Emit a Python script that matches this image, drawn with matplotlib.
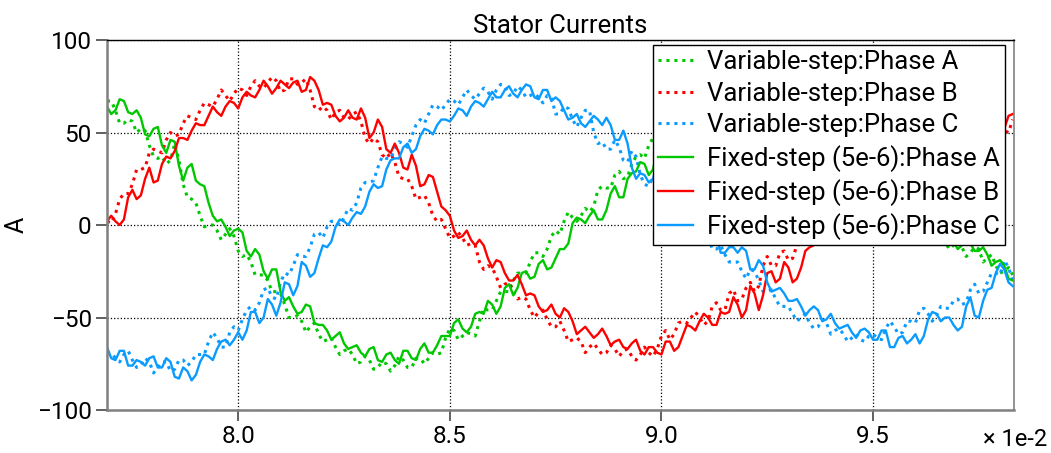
import matplotlib
matplotlib.use('Agg')
import matplotlib.pyplot as plt
import numpy as np

# samples every 0.01 (x 1e-2 s) from 7.69 to 9.83
t_start = 7.69
t_stop = 9.83

phase_a_var = [67, 67, 62, 55, 55, 57, 56, 50, 52, 51, 43, 37, 36, 37, 33, 35, 44, 35, 22, 15,
	14, 12, 5, -1, 0, 0, -3, -8, -5, -2, -6, -14, -17, -16, -20, -27, -27, -27, -30, -36,
	-36, -37, -43, -50, -50, -49, -52, -58, -55, -53, -59, -63, -62, -61, -66, -70, -68, -67, -70, -75,
	-74, -71, -73, -78, -77, -74, -75, -79, -76, -71, -73, -77, -77, -72, -72, -75, -72, -69, -70, -69,
	-61, -56, -57, -62, -60, -58, -59, -60, -52, -45, -46, -46, -41, -36, -36, -36, -30, -26, -26, -26,
	-20, -15, -15, -17, -13, -6, -3, -5, 2, 7, 4, 2, 5, 9, 7, 10, 19, 21, 20, 20,
	27, 29, 25, 26, 33, 37, 38, 36, 43, 47, 44, 44, 48, 53, 53, 52, 57, 60, 60, 59,
	64, 68, 66, 64, 69, 71, 70, 66, 71, 74, 70, 67, 69, 70, 66, 62, 64, 64, 60, 55,
	57, 57, 52, 47, 48, 48, 44, 37, 39, 41, 35, 30, 30, 31, 26, 21, 22, 22, 18, 13,
	15, 16, 11, 6, 8, 8, 4, -2, 1, 4, -1, -4, -3, -1, -5, -9, -7, -6, -9, -13,
	-11, -9, -12, -17, -15, -12, -13, -20, -18, -16, -22, -26, -25, -23, -27]

phase_b_var = [2, 1, 6, 14, 17, 17, 22, 30, 30, 31, 39, 41, 40, 39, 46, 50, 48, 49, 55, 59,
	58, 57, 62, 66, 65, 64, 68, 73, 70, 67, 71, 74, 73, 70, 75, 78, 75, 74, 77, 80,
	78, 72, 73, 79, 79, 76, 77, 79, 73, 64, 62, 64, 62, 57, 61, 62, 58, 57, 60, 61,
	56, 47, 44, 47, 45, 38, 36, 39, 34, 26, 25, 25, 21, 14, 15, 16, 12, 5, 2, 3,
	-2, -7, -6, -4, -7, -11, -10, -11, -20, -24, -22, -23, -28, -34, -32, -31, -36, -40, -39, -40,
	-46, -50, -47, -46, -51, -55, -55, -52, -57, -63, -62, -61, -63, -69, -66, -64, -67, -70, -69, -65,
	-67, -71, -68, -67, -71, -73, -70, -66, -69, -71, -67, -60, -57, -62, -59, -53, -52, -53, -50, -47,
	-50, -54, -52, -44, -42, -46, -46, -37, -35, -41, -40, -34, -31, -36, -33, -22, -17, -22, -22, -15,
	-14, -19, -18, -11, -10, -9, -4, 3, 3, 3, 10, 15, 16, 15, 22, 27, 27, 27, 32, 37,
	36, 35, 40, 45, 44, 43, 47, 52, 50, 48, 52, 55, 54, 50, 55, 58, 56, 54, 57, 60,
	58, 54, 57, 60, 57, 54, 56, 59, 55, 51, 54, 54, 51, 50, 57]

phase_c_var = [-69, -69, -72, -74, -70, -68, -73, -77, -76, -72, -74, -80, -77, -74, -74, -79, -78, -73, -73, -76,
	-74, -70, -70, -70, -63, -58, -61, -66, -66, -58, -55, -57, -51, -46, -44, -46, -42, -35, -34, -39,
	-40, -31, -26, -27, -22, -16, -17, -17, -12, -5, -4, -7, -1, 2, 2, 0, 4, 9, 8, 12,
	20, 23, 23, 24, 31, 37, 36, 36, 41, 45, 44, 42, 48, 54, 57, 55, 60, 65, 64, 62,
	65, 68, 67, 65, 69, 73, 70, 68, 71, 74, 72, 68, 73, 76, 75, 70, 71, 75, 73, 69,
	70, 71, 69, 66, 70, 69, 60, 60, 64, 63, 57, 53, 58, 62, 62, 50, 44, 45, 41, 41,
	46, 42, 35, 34, 40, 37, 27, 22, 21, 26, 26, 19, 20, 19, 15, 9, 10, 10, 5, 0,
	0, -1, -6, -13, -13, -11, -16, -20, -20, -20, -25, -29, -24, -25, -30, -36, -36, -35, -40, -44,
	-44, -44, -48, -52, -50, -48, -53, -56, -55, -51, -53, -59, -57, -56, -59, -63, -61, -59, -62, -63,
	-60, -59, -61, -62, -56, -52, -55, -59, -58, -52, -52, -53, -46, -45, -48, -52, -49, -44, -45, -45,
	-41, -40, -43, -42, -35, -32, -37, -36, -31, -26, -26, -27, -19, -23, -30]

phase_a_fix = [64, 60, 62, 68, 67, 61, 60, 62, 58, 49, 48, 52, 53, 43, 39, 46, 45, 32, 24, 31,
	33, 24, 22, 21, 12, 5, 2, 3, -1, -6, -3, -2, -4, -14, -17, -13, -16, -25, -29, -24,
	-24, -36, -41, -39, -44, -48, -47, -43, -44, -53, -54, -54, -57, -62, -60, -58, -64, -67, -66, -65,
	-69, -71, -67, -66, -73, -74, -70, -69, -73, -75, -68, -68, -72, -73, -67, -64, -69, -69, -65, -60,
	-60, -60, -53, -51, -56, -58, -55, -48, -47, -48, -41, -43, -48, -44, -34, -32, -38, -34, -26, -25,
	-29, -28, -21, -19, -24, -23, -18, -13, -13, -10, 1, 4, 3, 1, 5, 8, 3, 3, 8, 17,
	21, 15, 15, 25, 28, 29, 34, 33, 27, 30, 41, 45, 46, 45, 50, 56, 55, 54, 58, 63,
	62, 60, 65, 70, 67, 66, 70, 72, 69, 66, 71, 71, 68, 64, 67, 69, 64, 61, 62, 63,
	58, 53, 55, 56, 50, 46, 46, 46, 41, 35, 37, 36, 32, 27, 28, 30, 24, 20, 20, 21,
	17, 12, 13, 15, 10, 6, 6, 7, 3, -2, 1, 2, -1, -5, -3, 0, -5, -8, -7, -5,
	-9, -13, -11, -7, -10, -14, -14, -12, -16, -22, -20, -19, -22, -29, -30]

phase_b_fix = [2, 5, 2, 0, 3, 15, 19, 14, 16, 25, 31, 23, 24, 33, 37, 36, 40, 47, 47, 46,
	51, 55, 54, 54, 59, 64, 61, 59, 64, 67, 66, 63, 69, 72, 70, 69, 73, 78, 75, 71,
	74, 78, 76, 74, 77, 78, 72, 73, 80, 78, 73, 65, 66, 65, 59, 56, 58, 62, 58, 57,
	63, 58, 47, 50, 57, 53, 41, 39, 44, 39, 31, 30, 38, 32, 21, 22, 27, 26, 18, 10,
	8, 5, -3, -7, -6, -3, -8, -11, -8, -11, -18, -23, -19, -20, -26, -30, -30, -27, -32, -38,
	-37, -38, -44, -47, -46, -43, -48, -50, -45, -47, -52, -59, -57, -55, -58, -61, -59, -56, -60, -65,
	-63, -62, -66, -67, -64, -62, -68, -70, -66, -66, -69, -70, -63, -63, -68, -66, -60, -54, -55, -57,
	-52, -48, -50, -54, -54, -47, -48, -47, -39, -43, -50, -46, -33, -37, -46, -38, -26, -25, -31, -29,
	-20, -23, -31, -29, -23, -14, -12, -11, -3, 3, 5, 4, 12, 18, 18, 19, 24, 30, 29, 28,
	34, 39, 38, 38, 42, 47, 45, 43, 48, 51, 50, 47, 52, 56, 54, 52, 55, 59, 56, 53,
	57, 60, 57, 54, 56, 60, 56, 52, 55, 56, 54, 49, 52, 59, 60]

phase_c_fix = [-66, -72, -73, -68, -68, -76, -76, -73, -74, -76, -72, -71, -77, -77, -72, -74, -82, -83, -77, -79,
	-84, -81, -74, -70, -71, -73, -67, -63, -62, -65, -62, -58, -62, -57, -47, -47, -53, -50, -40, -43,
	-49, -42, -31, -32, -38, -33, -20, -22, -28, -26, -18, -11, -12, -9, -1, 3, 2, 0, 4, 7,
	6, 10, 18, 22, 20, 21, 30, 35, 36, 36, 42, 44, 39, 41, 48, 52, 51, 49, 54, 57,
	57, 56, 59, 63, 62, 59, 64, 67, 66, 64, 68, 72, 69, 69, 73, 75, 71, 69, 73, 76,
	75, 69, 68, 73, 73, 67, 69, 67, 62, 57, 58, 60, 55, 53, 56, 59, 57, 54, 58, 54,
	46, 46, 51, 44, 31, 25, 28, 27, 23, 25, 33, 33, 25, 20, 20, 20, 15, 9, 10, 9,
	5, 0, 0, 0, -6, -15, -15, -12, -12, -15, -12, -14, -24, -24, -19, -22, -31, -36, -35, -34,
	-37, -41, -41, -40, -44, -49, -46, -44, -46, -52, -51, -48, -53, -56, -55, -54, -58, -61, -57, -56,
	-58, -62, -62, -57, -57, -66, -66, -61, -60, -64, -62, -59, -64, -60, -51, -47, -48, -52, -50, -50,
	-54, -57, -55, -44, -39, -49, -50, -41, -35, -34, -26, -21, -24, -31, -33]

series = [phase_a_var, phase_b_var, phase_c_var, phase_a_fix, phase_b_fix, phase_c_fix]
labels = ['Variable-step:Phase A', 'Variable-step:Phase B', 'Variable-step:Phase C',
	'Fixed-step (5e-6):Phase A', 'Fixed-step (5e-6):Phase B', 'Fixed-step (5e-6):Phase C']
xticks = [0.080, 0.085, 0.090, 0.095]
xticklabels = ['8.0', '8.5', '9.0', '9.5']
yticks = [-100, -50, 0, 50, 100]

green = '#00c800'
red = '#ff0000'
blue = '#0a9bff'
colors = [green, red, blue, green, red, blue]
styles = [(0, (1, 1.6))] * 3 + ['-'] * 3

plt.rcParams['font.family'] = ['Roboto', 'DejaVu Sans']

fig = plt.figure(figsize=(10.51, 4.53), dpi=100)
ax = fig.add_axes([0.1018, 0.0949, 0.8630, 0.8168])

for i in range(0, len(series)):
	t = np.linspace(t_start, t_stop, len(series[i])) * 1e-2
	lw = 2.2 if i < 3 else 1.7
	ax.plot(t, series[i], color=colors[i], linestyle=styles[i], lw=lw, label=labels[i])

ax.set_xlim(0.0769, 0.09833)
ax.set_ylim(-100, 100)
ax.set_xticks(xticks)
ax.set_xticklabels(xticklabels)
ax.set_yticks(yticks)
ax.grid(True, color='black', linestyle=':', linewidth=0.9)

for s in ['left', 'bottom', 'right']:
	ax.spines[s].set_color('#808080')
	ax.spines[s].set_linewidth(1.8)
ax.spines['right'].set_linewidth(1.2)
ax.spines['top'].set_color('black')
ax.spines['top'].set_linewidth(1.0)

ax.tick_params(direction='out', length=8, width=1.4, color='#606060', labelsize=17.5, pad=3)
ax.set_title('Stator Currents', fontsize=18.5, pad=5)
ax.set_ylabel('A', fontsize=18, labelpad=6)
fig.text(0.996, 0.030, '\u00d7 1e-2', ha='right', va='center', fontsize=17)

leg = ax.legend(loc='upper right', bbox_to_anchor=(0.990, 0.986), fontsize=18.5,
	fancybox=False, framealpha=1, edgecolor='black', borderaxespad=0,
	handlelength=1.36, handletextpad=0.55, labelspacing=0.29, borderpad=0.2)
leg.get_frame().set_linewidth(1.0)

plt.savefig('out.png', dpi=100)
